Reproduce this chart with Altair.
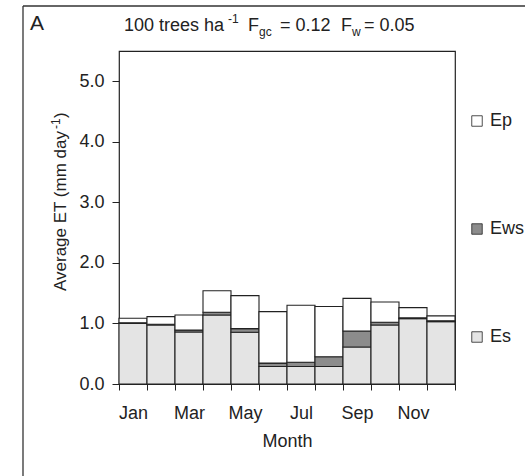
import altair as alt
import pandas as pd

# ---- data ----
months = ["Jan", "Feb", "Mar", "Apr", "May", "Jun", "Jul", "Aug", "Sep", "Oct", "Nov", "Dec"]
es = [1.00, 0.975, 0.86, 1.14, 0.855, 0.29, 0.29, 0.29, 0.61, 0.975, 1.08, 1.03]
ews = [0.012, 0.012, 0.03, 0.045, 0.06, 0.055, 0.07, 0.16, 0.265, 0.045, 0.012, 0.015]
ep = [0.075, 0.125, 0.25, 0.355, 0.545, 0.85, 0.94, 0.83, 0.54, 0.335, 0.17, 0.08]
series_names = ["Ep", "Ews", "Es"]          # legend order (top to bottom)
series_colors = ["#ffffff", "#8c8c8c", "#e4e4e4"]
y_ticks = [0, 1, 2, 3, 4, 5]

FONT = "Liberation Sans"
INK = "#222222"

# ---- long table (stacked: Es bottom, Ews middle, Ep top) ----
rows = []
for i, m in enumerate(months):
    lo = 0.0
    for name, vals in (("Es", es), ("Ews", ews), ("Ep", ep)):
        hi = lo + vals[i]
        rows.append({"month": m, "x0": i, "x1": i + 1, "series": name, "lo": lo, "hi": hi})
        lo = hi
df = pd.DataFrame(rows)

month_arr = "[" + ",".join("'%s'" % m for m in months) + "]"
label_expr = (
    "datum.value % 2 == 0 && datum.value < 12 ? " + month_arr + "[datum.value] : ''"
)

bars = alt.Chart(df).mark_bar(stroke=INK, strokeWidth=1.1).encode(
    x=alt.X(
        "x0:Q",
        scale=alt.Scale(domain=[0, 12], nice=False, zero=False),
        axis=alt.Axis(
            values=list(range(13)),
            labelExpr=label_expr,
            labelOffset=14,
            labelPadding=14,
            labelOverlap=False,
            labelFlush=False,
            labelFont=FONT,
            labelFontSize=18,
            labelColor=INK,
            tickColor=INK,
            tickSize=6,
            title="Month",
            titleFont=FONT,
            titleFontSize=18,
            titleFontWeight="normal",
            titleColor=INK,
            titlePadding=10,
            grid=False,
            domain=False,
        ),
    ),
    x2="x1:Q",
    y=alt.Y(
        "lo:Q",
        scale=alt.Scale(domain=[0, 5.5], nice=False),
        axis=alt.Axis(
            values=y_ticks,
            format=".1f",
            labelFont=FONT,
            labelFontSize=18,
            labelColor=INK,
            tickColor=INK,
            tickSize=7,
            labelPadding=8,
            grid=False,
            domain=False,
            title=None,
        ),
    ),
    y2="hi:Q",
    color=alt.Color(
        "series:N",
        scale=alt.Scale(domain=series_names, range=series_colors),
        legend=alt.Legend(
            title=None,
            orient="none",
            legendX=349,
            legendY=61,
            symbolType="square",
            symbolSize=110,
            symbolStrokeColor=INK,
            symbolStrokeWidth=0.8,
            symbolOpacity=1,
            labelFontSize=18,
            labelFont=FONT,
            labelColor=INK,
            labelOffset=4,
            rowPadding=90,
            padding=0,
        ),
    ),
)


def txt(s, x, y, size=18, angle=None, align="left"):
    kw = dict(font=FONT, fontSize=size, color=INK, align=align, baseline="alphabetic")
    if angle is not None:
        kw["angle"] = angle
    return alt.Chart(pd.DataFrame({"t": [s]})).mark_text(**kw).encode(
        text="t:N", x=alt.value(x), y=alt.value(y)
    )


one = pd.DataFrame({"a": [0]})
frame_top = alt.Chart(one).mark_rule(color="#333333", strokeWidth=1.3).encode(
    x=alt.value(-96), x2=alt.value(406), y=alt.value(-45)
)
frame_left = alt.Chart(one).mark_rule(color="#333333", strokeWidth=1.3).encode(
    x=alt.value(-96), y=alt.value(-45), y2=alt.value(425)
)

layers = [
    bars,
    frame_top,
    frame_left,
    txt("A", -89, -21, size=21),
    txt("100 trees ha", 5, -20),
    txt("-1", 109, -28, size=12),
    txt("F", 129, -20),
    txt("gc", 140, -15, size=12),
    txt("= 0.12", 161, -20),
    txt("F", 222, -20),
    txt("w", 233, -15, size=12),
    txt("= 0.05", 245, -20),
    # y axis title pieces (rotated)
    txt("Average ET (mm day", -53, 80, size=17, angle=270, align="right"),
    txt("-1", -59, 78, size=12, angle=270, align="left"),
    txt(")", -53, 67, size=17, angle=270, align="left"),
]

chart = alt.layer(*layers).properties(
    width=336,
    height=333,
    autosize=alt.AutoSizeParams(type="none"),
    padding={"left": 119, "top": 51, "right": 70, "bottom": 92},
    background="white",
).configure_view(stroke=INK, strokeWidth=1.2)

chart.save("out.html", embed_options={"renderer": "svg", "actions": False})
